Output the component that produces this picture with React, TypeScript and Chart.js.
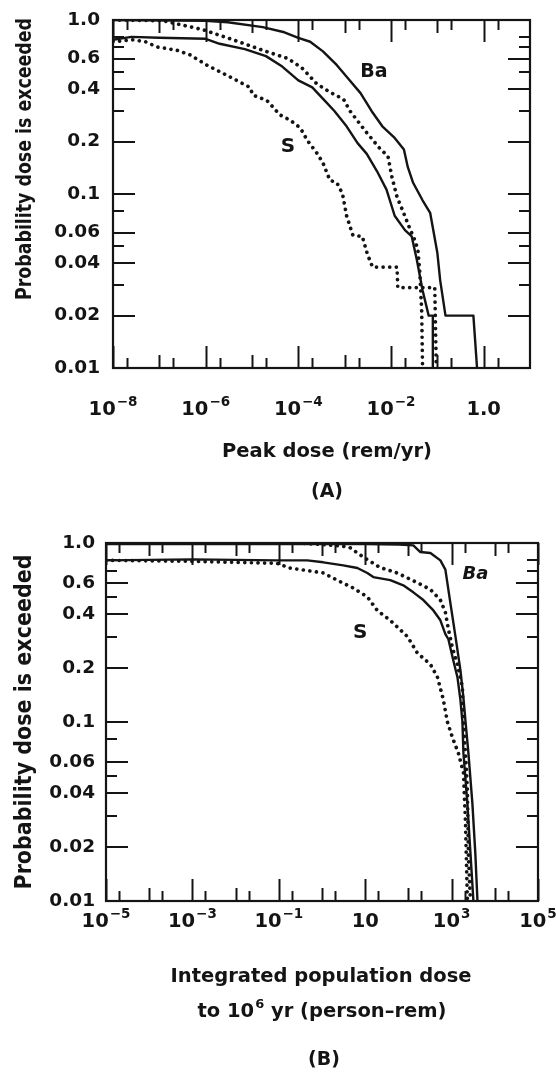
import React, { useEffect, useRef } from "react";
import { Chart, registerables } from "chart.js";

Chart.register(...registerables);

// ---------------- Panel (A): Peak dose (rem/yr) ----------------
const aBaDose = [1e-8, 1e-6, 3e-6, 1.7e-5, 5e-5, 1e-4, 1.8e-4, 3.4e-4, 6.8e-4, 1.2e-3, 2.2e-3, 3.8e-3, 6.5e-3, 1.2e-2, 1.9e-2, 2.3e-2, 3e-2, 4.8e-2, 7e-2, 0.1, 0.115, 0.15, 0.6, 0.72];
const aBaProb = [1.0, 0.99, 0.97, 0.91, 0.85, 0.79, 0.75, 0.66, 0.55, 0.46, 0.38, 0.3, 0.245, 0.21, 0.18, 0.143, 0.116, 0.092, 0.078, 0.046, 0.032, 0.02, 0.02, 0.01];

const aUpperDotDose = [1e-8, 1.2e-7, 2e-7, 8.7e-7, 3.9e-6, 1.7e-5, 6e-5, 1.2e-4, 2.5e-4, 4.8e-4, 9.5e-4, 1.3e-3, 2.8e-3, 5.8e-3, 8.6e-3, 1.05e-2, 1.35e-2, 1.8e-2, 2.5e-2, 3.2e-2, 3.8e-2, 4.2e-2, 4.6e-2, 4.8e-2];
const aUpperDotProb = [1.0, 0.99, 0.96, 0.88, 0.77, 0.67, 0.6, 0.53, 0.43, 0.385, 0.35, 0.3, 0.23, 0.182, 0.165, 0.125, 0.096, 0.08, 0.064, 0.055, 0.048, 0.035, 0.021, 0.01];

const aLowerDose = [1e-8, 2.5e-8, 1e-7, 1e-6, 2e-6, 7e-6, 2e-5, 4.5e-5, 1e-4, 2e-4, 3.5e-4, 6e-4, 1.1e-3, 1.9e-3, 3e-3, 5e-3, 8e-3, 1.2e-2, 2e-2, 2.8e-2, 3.6e-2, 4.8e-2, 0.065, 0.08, 0.08];
const aLowerProb = [0.77, 0.8, 0.79, 0.78, 0.73, 0.68, 0.62, 0.54, 0.45, 0.41, 0.35, 0.3, 0.245, 0.196, 0.17, 0.135, 0.106, 0.075, 0.062, 0.057, 0.042, 0.028, 0.02, 0.02, 0.01];

const aSDose = [1e-8, 2.7e-8, 5e-8, 8.9e-8, 2.4e-7, 4.6e-7, 1.07e-6, 3.4e-6, 9e-6, 1.05e-5, 2.1e-5, 4e-5, 6.6e-5, 1.1e-4, 1.55e-4, 2.5e-4, 3.4e-4, 4.8e-4, 6.8e-4, 9e-4, 1.1e-3, 1.5e-3, 2.4e-3, 3.1e-3, 4e-3, 1.35e-2, 1.4e-2, 8.8e-2, 0.095];
const aSProb = [0.75, 0.77, 0.75, 0.7, 0.67, 0.63, 0.55, 0.47, 0.41, 0.37, 0.345, 0.285, 0.266, 0.24, 0.204, 0.172, 0.151, 0.12, 0.116, 0.1, 0.075, 0.058, 0.057, 0.045, 0.038, 0.038, 0.029, 0.029, 0.01];

// ---------------- Panel (B): Integrated population dose (person-rem) ----------------
const bBaDose = [1e-5, 10, 60, 130, 189, 323, 550, 718, 940, 1230, 1600, 1870, 2080, 2450, 3030, 3540, 3970];
const bBaProb = [0.985, 0.985, 0.98, 0.97, 0.89, 0.88, 0.8, 0.71, 0.46, 0.3, 0.195, 0.138, 0.103, 0.067, 0.035, 0.0185, 0.01];

const bUpperDotDose = [1e-5, 0.3, 1.0, 3.0, 4.5, 9.0, 22, 55, 161, 323, 550, 718, 843, 1045, 1365, 1780, 1880, 2090, 2320, 2450, 2730];
const bUpperDotProb = [1.0, 1.0, 0.98, 0.96, 0.94, 0.835, 0.73, 0.68, 0.6, 0.55, 0.48, 0.41, 0.33, 0.26, 0.21, 0.157, 0.1, 0.067, 0.043, 0.018, 0.01];

const bLowerDose = [1e-5, 1e-3, 0.091, 0.455, 1.07, 3.1, 6.6, 11.2, 15.4, 38, 76, 130, 222, 379, 550, 718, 843, 1100, 1365, 1600, 1780, 1880, 2320, 2730, 3200];
const bLowerProb = [0.8, 0.81, 0.8, 0.8, 0.78, 0.75, 0.725, 0.68, 0.645, 0.62, 0.58, 0.53, 0.48, 0.42, 0.37, 0.31, 0.29, 0.22, 0.178, 0.133, 0.1, 0.067, 0.035, 0.0185, 0.01];

const bSDose = [1e-5, 8.9e-4, 0.091, 0.18, 1.07, 2.25, 5.3, 11.2, 19, 38, 95, 161, 323, 470, 645, 800, 1045, 1435, 1880, 2090, 2320];
const bSProb = [0.8, 0.79, 0.77, 0.725, 0.68, 0.62, 0.56, 0.5, 0.42, 0.37, 0.3, 0.243, 0.21, 0.178, 0.133, 0.1, 0.082, 0.067, 0.052, 0.028, 0.01];

// ---------------- Axis ticks and labels ----------------
const yLabelValues = [1, 0.6, 0.4, 0.2, 0.1, 0.06, 0.04, 0.02, 0.01];
const yLabelText = ["1.0", "0.6", "0.4", "0.2", "0.1", "0.06", "0.04", "0.02", "0.01"];
const yMinorTicks = [0.8, 0.7, 0.5, 0.3, 0.08, 0.05, 0.03];

const aXLabelValues = [1e-8, 1e-6, 1e-4, 1e-2, 1];
const aXLabelBase = ["10", "10", "10", "10", "1.0"];
const aXLabelExp = ["\u22128", "\u22126", "\u22124", "\u22122", ""];
const aXMidTicks = [1e-7, 1e-5, 1e-3, 1e-1];
const aXMinorTicks = [2e-8, 2e-7, 2e-6, 2e-5, 2e-4, 2e-3, 2e-2, 2e-1, 2];

const bXLabelValues = [1e-5, 1e-3, 1e-1, 10, 1e3, 1e5];
const bXLabelBase = ["10", "10", "10", "10", "10", "10"];
const bXLabelExp = ["\u22125", "\u22123", "\u22121", "", "3", "5"];
const bXMidTicks = [1e-4, 1e-2, 1, 100, 1e4];
const bXMinorTicks = [2e-5, 2e-4, 2e-3, 2e-2, 0.2, 2, 20, 200, 2000, 2e4];

const INK = "#141414";
const FONT = '"DejaVu Sans", "Liberation Sans", sans-serif';

type Seg = { t: string; sup?: boolean };

function zip(xs: number[], ys: number[]) {
  return xs.map((x, i) => ({ x, y: ys[i] }));
}

function drawRich(ctx: CanvasRenderingContext2D, segs: Seg[], cx: number, cy: number, size: number, supSize: number, raise: number) {
  const base = `bold ${size}px ${FONT}`;
  const sup = `bold ${supSize}px ${FONT}`;
  let total = 0;
  const widths = segs.map((s) => {
    ctx.font = s.sup ? sup : base;
    const w = ctx.measureText(s.t).width + (s.sup ? 1 : 0);
    total += w;
    return w;
  });
  let x = cx - total / 2;
  ctx.textAlign = "left";
  ctx.textBaseline = "middle";
  segs.forEach((s, i) => {
    ctx.font = s.sup ? sup : base;
    ctx.fillText(s.t, x + (s.sup ? 1 : 0), s.sup ? cy - raise : cy);
    x += widths[i];
  });
}

interface PanelCfg {
  top: number;
  xLabelValues: number[];
  xLabelBase: string[];
  xLabelExp: string[];
  xMid: number[];
  xMinor: number[];
  yLabelRight: number;
  xLabelY: number;
  xTitles: { segs: Seg[]; x: number; y: number }[];
  panel: { text: string; x: number; y: number };
  yTitle: { x: number; y: number; size: number; length: number };
  notes: { text: string; dose: number; prob: number; font: string }[];
}

function makeDecor(cfg: PanelCfg) {
  return {
    id: "panelDecor",
    afterDatasetsDraw(chart: any) {
      const { ctx, chartArea: ca } = chart;
      const xs = chart.scales.x;
      const ys = chart.scales.y;
      const line = (x1: number, y1: number, x2: number, y2: number) => {
        ctx.beginPath();
        ctx.moveTo(x1, y1);
        ctx.lineTo(x2, y2);
        ctx.stroke();
      };
      ctx.save();
      ctx.strokeStyle = INK;
      ctx.lineCap = "butt";
      ctx.lineWidth = 2;
      const vt = (v: number, len: number) => {
        const x = Math.round(xs.getPixelForValue(v)) + 0.5;
        line(x, ca.bottom, x, ca.bottom - len);
        line(x, ca.top, x, ca.top + len);
      };
      const ht = (v: number, len: number) => {
        const y = Math.round(ys.getPixelForValue(v));
        line(ca.left, y, ca.left + len, y);
        line(ca.right, y, ca.right - len, y);
      };
      cfg.xLabelValues.forEach((v) => vt(v, 22));
      cfg.xMid.forEach((v) => vt(v, 13));
      cfg.xMinor.forEach((v) => vt(v, 10));
      yLabelValues.forEach((v) => ht(v, 22));
      yMinorTicks.forEach((v) => ht(v, 11));
      ctx.lineWidth = 2.2;
      ctx.strokeRect(ca.left, ca.top, ca.right - ca.left, ca.bottom - ca.top);
      ctx.restore();
    },
    afterDraw(chart: any) {
      const { ctx } = chart;
      const xs = chart.scales.x;
      const ys = chart.scales.y;
      const off = cfg.top;
      ctx.save();
      ctx.fillStyle = INK;
      // y tick labels
      ctx.font = `bold 18.5px ${FONT}`;
      ctx.textAlign = "right";
      ctx.textBaseline = "middle";
      yLabelValues.forEach((v, i) => {
        ctx.fillText(yLabelText[i], cfg.yLabelRight, ys.getPixelForValue(v));
      });
      // x tick labels
      cfg.xLabelValues.forEach((v, i) => {
        const segs: Seg[] = [{ t: cfg.xLabelBase[i] }];
        if (cfg.xLabelExp[i]) segs.push({ t: cfg.xLabelExp[i], sup: true });
        drawRich(ctx, segs, xs.getPixelForValue(v), cfg.xLabelY - off, 19.5, 13.5, 8);
      });
      // x titles
      cfg.xTitles.forEach((tl) => drawRich(ctx, tl.segs, tl.x, tl.y - off, 19.5, 13, 7));
      // panel label
      ctx.font = `bold 19px ${FONT}`;
      ctx.textAlign = "center";
      ctx.textBaseline = "middle";
      ctx.fillText(cfg.panel.text, cfg.panel.x, cfg.panel.y - off);
      // curve notes
      cfg.notes.forEach((n) => {
        ctx.font = n.font;
        ctx.textAlign = "center";
        ctx.textBaseline = "middle";
        ctx.fillText(n.text, xs.getPixelForValue(n.dose), ys.getPixelForValue(n.prob));
      });
      // y title (condensed along its length to match the original lettering)
      ctx.save();
      ctx.translate(cfg.yTitle.x, cfg.yTitle.y - off);
      ctx.rotate(-Math.PI / 2);
      ctx.font = `bold ${cfg.yTitle.size}px ${FONT}`;
      const title = "Probability dose is exceeded";
      const w = ctx.measureText(title).width;
      ctx.scale(cfg.yTitle.length / w, 1);
      ctx.textAlign = "center";
      ctx.textBaseline = "middle";
      ctx.fillText(title, 0, 0);
      ctx.restore();
      ctx.restore();
    },
  };
}

function solid(data: { x: number; y: number }[]) {
  return {
    data,
    borderColor: INK,
    borderWidth: 2.4,
    pointRadius: 0,
    fill: false,
    tension: 0,
    borderJoinStyle: "round" as const,
  };
}

function dotted(data: { x: number; y: number }[]) {
  return {
    data,
    borderColor: INK,
    borderWidth: 3.7,
    borderDash: [0.01, 6.6],
    borderCapStyle: "round" as const,
    pointRadius: 0,
    fill: false,
    tension: 0,
  };
}

function buildChart(canvas: HTMLCanvasElement, datasets: any[], xMin: number, xMax: number, padding: any, cfg: PanelCfg) {
  return new Chart(canvas, {
    type: "line",
    data: { datasets },
    options: {
      responsive: false,
      maintainAspectRatio: false,
      animation: false,
      events: [],
      layout: { padding },
      plugins: { legend: { display: false }, tooltip: { enabled: false }, title: { display: false } },
      scales: {
        x: { type: "logarithmic", min: xMin, max: xMax, display: false },
        y: { type: "logarithmic", min: 0.01, max: 1, display: false },
      },
    },
    plugins: [makeDecor(cfg)],
  } as any);
}

const cfgA: PanelCfg = {
  top: 0,
  xLabelValues: aXLabelValues,
  xLabelBase: aXLabelBase,
  xLabelExp: aXLabelExp,
  xMid: aXMidTicks,
  xMinor: aXMinorTicks,
  yLabelRight: 100,
  xLabelY: 410,
  xTitles: [{ segs: [{ t: "Peak dose (rem/yr)" }], x: 327, y: 452 }],
  panel: { text: "(A)", x: 327, y: 492 },
  yTitle: { x: 26, y: 159, size: 21, length: 282 },
  notes: [
    { text: "Ba", dose: 4.3e-3, prob: 0.503, font: `bold 19px ${FONT}` },
    { text: "S", dose: 6e-5, prob: 0.186, font: `bold 20px ${FONT}` },
  ],
};

const cfgB: PanelCfg = {
  top: 520,
  xLabelValues: bXLabelValues,
  xLabelBase: bXLabelBase,
  xLabelExp: bXLabelExp,
  xMid: bXMidTicks,
  xMinor: bXMinorTicks,
  yLabelRight: 95,
  xLabelY: 922,
  xTitles: [
    { segs: [{ t: "Integrated population dose" }], x: 321, y: 977 },
    { segs: [{ t: "to 10" }, { t: "6", sup: true }, { t: " yr (person\u2013rem)" }], x: 322, y: 1012 },
  ],
  panel: { text: "(B)", x: 324, y: 1060 },
  yTitle: { x: 25, y: 722, size: 23, length: 335 },
  notes: [
    { text: "Ba", dose: 3550, prob: 0.671, font: `italic bold 18px ${FONT}` },
    { text: "S", dose: 7.7, prob: 0.314, font: `bold 20px ${FONT}` },
  ],
};

export default function App() {
  const refA = useRef<HTMLCanvasElement>(null);
  const refB = useRef<HTMLCanvasElement>(null);

  useEffect(() => {
    const chartA = buildChart(
      refA.current!,
      [
        solid(zip(aBaDose, aBaProb)),
        dotted(zip(aUpperDotDose, aUpperDotProb)),
        solid(zip(aLowerDose, aLowerProb)),
        dotted(zip(aSDose, aSProb)),
      ],
      1e-8,
      10,
      { left: 113, right: 26, top: 20, bottom: 152 },
      cfgA
    );
    const chartB = buildChart(
      refB.current!,
      [
        solid(zip(bBaDose, bBaProb)),
        dotted(zip(bUpperDotDose, bUpperDotProb)),
        solid(zip(bLowerDose, bLowerProb)),
        dotted(zip(bSDose, bSProb)),
      ],
      1e-5,
      1e5,
      { left: 106, right: 18, top: 23, bottom: 173 },
      cfgB
    );
    return () => {
      chartA.destroy();
      chartB.destroy();
    };
  }, []);

  return (
    <div style={{ position: "absolute", left: 0, top: 0, width: 556, height: 1074, background: "#fff" }}>
      <canvas ref={refA} width={556} height={520} style={{ position: "absolute", left: 0, top: 0 }} />
      <canvas ref={refB} width={556} height={554} style={{ position: "absolute", left: 0, top: 520 }} />
    </div>
  );
}
